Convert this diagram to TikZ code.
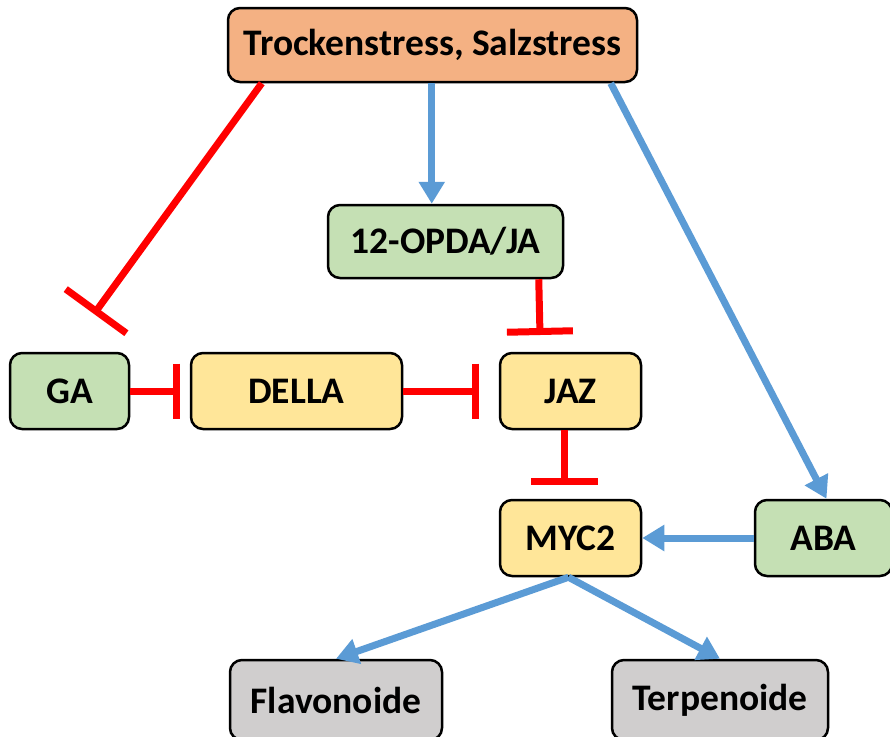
\documentclass[tikz,border=0pt]{standalone}
\usepackage{fontspec}
\setmainfont{Carlito}
\usetikzlibrary{arrows.meta}
\definecolor{cOrange}{HTML}{F4B183}
\definecolor{cGreen}{HTML}{C5E0B4}
\definecolor{cYellow}{HTML}{FFE699}
\definecolor{cGrey}{HTML}{D0CECE}
\definecolor{cBlue}{HTML}{5B9BD5}
\definecolor{cRed}{HTML}{FF0000}
\tikzset{
  box/.style={draw=black, line width=2.5pt, rounded corners=12pt, inner sep=0pt,
    font=\fontsize{37.5}{42}\selectfont\bfseries, align=center},
  act/.style={draw=cBlue, line width=7pt, -{Triangle[length=22pt,width=25pt]}},
  inh/.style={draw=cRed, line width=7pt},
  ibar/.style={-{Bar[width=#1]}},
}
\begin{document}
\begin{tikzpicture}[x=1pt,y=-1pt]
\useasboundingbox (0,0) rectangle (890,736);
\node[box, fill=cOrange, minimum width=409pt, minimum height=74pt] (top) at (432.5,45) {Trockenstress, Salzstress};
\node[box, fill=cGreen, minimum width=235pt, minimum height=73pt] (opda) at (445.5,241.5) {12-OPDA/JA};
\node[box, fill=cGreen, minimum width=119pt, minimum height=76pt] (ga) at (69.5,391) {GA};
\node[box, fill=cYellow, minimum width=211pt, minimum height=76pt] (della) at (296.5,391) {DELLA};
\node[box, fill=cYellow, minimum width=141pt, minimum height=76pt] (jaz) at (570.5,391) {JAZ};
\node[box, fill=cYellow, minimum width=141pt, minimum height=76pt] (myc) at (570.5,538) {MYC2};
\node[box, fill=cGreen, minimum width=137pt, minimum height=76pt] (aba) at (823.5,538) {ABA};
\node[box, fill=cGrey, minimum width=212pt, minimum height=80pt] (flav) at (336,700) {Flavonoide};
\node[box, fill=cGrey, minimum width=216pt, minimum height=80pt] (terp) at (720,700) {Terpenoide};

\coordinate (gaT) at (94,314);
\coordinate (dellaT) at (180,391);
\coordinate (jazT) at (479,391);
\coordinate (opdaT) at (540,335);
\coordinate (mycT) at (564,485);

% inhibitions
\draw[inh, ibar=75pt] ([xshift=35pt]top.south west) -- (gaT);
\draw[inh, ibar=55pt] (ga.east) -- (dellaT);
\draw[inh, ibar=55pt] (della.east) -- (jazT);
\draw[inh, ibar=66pt] ([xshift=212pt]opda.south west) -- (opdaT);
\draw[inh, ibar=67pt] ([xshift=-6.5pt]jaz.south) -- (mycT);

% activations
\draw[act] ([xshift=205pt]top.south west) -- ([xshift=105pt]opda.north west);
\draw[act] ([xshift=384pt]top.south west) -- ([xshift=3pt]aba.north);
\draw[act] (aba.west) -- (myc.east);
\draw[act] ([xshift=-2pt]myc.south) -- (flav.north);
\draw[act] ([xshift=-2pt]myc.south) -- (terp.north);
\end{tikzpicture}
\end{document}
